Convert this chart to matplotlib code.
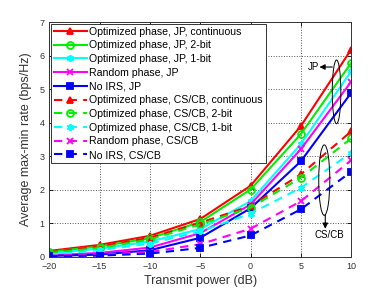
import matplotlib
matplotlib.use("Agg")
import matplotlib.pyplot as plt
from matplotlib.patches import Ellipse, FancyArrowPatch


# ==================================================
# DATA
# ==================================================

power_db = [-20, -15, -10, -5, 0, 5, 10]

jp_opt_cont = [0.18, 0.36, 0.63, 1.13, 2.12, 3.90, 6.18]
jp_opt_2bit = [0.15, 0.31, 0.56, 1.04, 2.01, 3.66, 5.78]
jp_opt_1bit = [0.10, 0.25, 0.46, 0.83, 1.66, 3.36, 5.53]
jp_random = [0.05, 0.12, 0.28, 0.71, 1.56, 3.21, 5.22]
jp_no_irs = [0.03, 0.07, 0.20, 0.57, 1.45, 2.85, 4.89]

cs_opt_cont = [0.14, 0.31, 0.57, 1.02, 1.52, 2.46, 3.74]
cs_opt_2bit = [0.12, 0.27, 0.52, 0.97, 1.47, 2.36, 3.53]
cs_opt_1bit = [0.07, 0.20, 0.40, 0.76, 1.29, 2.06, 3.10]
cs_random = [0.04, 0.07, 0.15, 0.38, 0.84, 1.66, 2.88]
cs_no_irs = [0.02, 0.04, 0.10, 0.27, 0.64, 1.42, 2.54]

labels = [
    "Optimized phase, JP, continuous",
    "Optimized phase, JP, 2-bit",
    "Optimized phase, JP, 1-bit",
    "Random phase, JP",
    "No IRS, JP",
    "Optimized phase, CS/CB, continuous",
    "Optimized phase, CS/CB, 2-bit",
    "Optimized phase, CS/CB, 1-bit",
    "Random phase, CS/CB",
    "No IRS, CS/CB",
]


# ==================================================
# STYLE
# ==================================================

plt.rcParams["font.family"] = ["Liberation Sans", "DejaVu Sans"]

asterisk = (6, 2, 0)

styles = [
    ("#ff0000", "^", "full"),
    ("#00ee00", "o", "none"),
    ("#00ffff", asterisk, "full"),
    ("#ff00ff", "x", "full"),
    ("#0000ff", "s", "full"),
]


def add_arrow(ax, start, end):
    arrow = FancyArrowPatch(
        start, end,
        arrowstyle="-|>", mutation_scale=8,
        color="black", linewidth=0.8,
        shrinkA=0, shrinkB=0, zorder=10
    )
    ax.add_patch(arrow)


# ==================================================
# PLOT
# ==================================================

fig = plt.figure(figsize=(3.88, 2.94), dpi=100)
ax = fig.add_axes([0.127, 0.126, 0.778, 0.799])

jp_series = [jp_opt_cont, jp_opt_2bit, jp_opt_1bit, jp_random, jp_no_irs]
cs_series = [cs_opt_cont, cs_opt_2bit, cs_opt_1bit, cs_random, cs_no_irs]

for i, values in enumerate(jp_series):
    color, marker, fill = styles[i]
    ax.plot(
        power_db, values,
        color=color, marker=marker, fillstyle=fill,
        markersize=5, markeredgewidth=1.3,
        linewidth=1.5, linestyle="-",
        label=labels[i]
    )

for i, values in enumerate(cs_series):
    color, marker, fill = styles[i]
    ax.plot(
        power_db, values,
        color=color, marker=marker, fillstyle=fill,
        markersize=5, markeredgewidth=1.3,
        linewidth=1.5, linestyle=(0, (4, 3)),
        label=labels[5 + i]
    )

ax.set_xlim(-20, 10)
ax.set_ylim(0, 7)
ax.set_xticks(power_db)
ax.set_yticks(range(0, 8))

ax.tick_params(
    labelsize=6.5, labelcolor="#333333",
    direction="in", length=3, width=0.6,
    top=True, right=True
)

ax.grid(True, linestyle=":", color="#555555", linewidth=0.7)

for spine in ax.spines.values():
    spine.set_linewidth(0.7)
    spine.set_color("#333333")

ax.set_xlabel("Transmit power (dB)", fontsize=9, color="#333333", labelpad=3)
ax.set_ylabel(
    "Average max-min rate (bps/Hz)",
    fontsize=9, color="#333333", labelpad=5
)

leg = ax.legend(
    loc="upper left",
    fontsize=7.6,
    handlelength=3.1,
    handletextpad=0.25,
    labelspacing=0.35,
    borderpad=0.3,
    borderaxespad=0.15,
    fancybox=False,
    framealpha=1.0,
    edgecolor="#333333"
)
leg.get_frame().set_linewidth(0.7)

# annotations
ax.add_patch(Ellipse(
    (8.55, 4.92), 0.85, 1.9,
    fill=False, edgecolor="black", linewidth=0.7, zorder=10
))
add_arrow(ax, (8.13, 5.66), (6.85, 5.66))
ax.text(6.25, 5.66, "JP", fontsize=7, ha="center", va="center")

ax.add_patch(Ellipse(
    (7.33, 2.29), 1.1, 2.1,
    fill=False, edgecolor="black", linewidth=0.7, zorder=10
))
add_arrow(ax, (7.43, 1.26), (7.43, 0.84))
ax.text(7.8, 0.66, "CS/CB", fontsize=7, ha="center", va="center")

fig.savefig("out.png", dpi=100)
